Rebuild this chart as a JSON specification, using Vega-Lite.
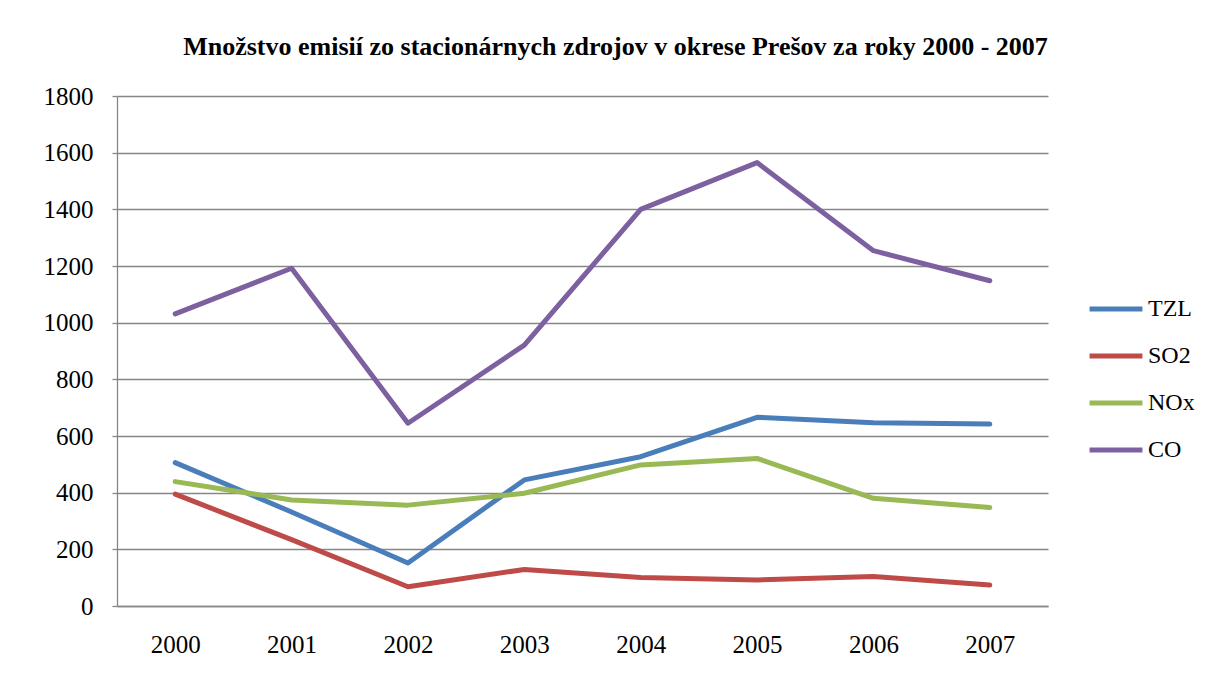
{
  "$schema": "https://vega.github.io/schema/vega-lite/v6.json",
  "width": 931,
  "height": 510,
  "autosize": {"type": "none"},
  "padding": {"left": 117, "top": 96, "right": 162, "bottom": 78},
  "background": "white",
  "title": {
    "text": "Množstvo emisií zo stacionárnych zdrojov v okrese Prešov za roky 2000 - 2007",
    "font": "Liberation Serif",
    "fontSize": 26,
    "fontWeight": "bold",
    "color": "#000000",
    "anchor": "middle",
    "dx": 33,
    "offset": 3,
    "baseline": "alphabetic"
  },
  "data": {
    "values": [
      {"rok": "2000", "latka": "TZL", "hodnota": 506},
      {"rok": "2001", "latka": "TZL", "hodnota": 332},
      {"rok": "2002", "latka": "TZL", "hodnota": 152},
      {"rok": "2003", "latka": "TZL", "hodnota": 445},
      {"rok": "2004", "latka": "TZL", "hodnota": 527},
      {"rok": "2005", "latka": "TZL", "hodnota": 666},
      {"rok": "2006", "latka": "TZL", "hodnota": 647},
      {"rok": "2007", "latka": "TZL", "hodnota": 642},
      {"rok": "2000", "latka": "SO2", "hodnota": 395},
      {"rok": "2001", "latka": "SO2", "hodnota": 234},
      {"rok": "2002", "latka": "SO2", "hodnota": 68},
      {"rok": "2003", "latka": "SO2", "hodnota": 129},
      {"rok": "2004", "latka": "SO2", "hodnota": 101},
      {"rok": "2005", "latka": "SO2", "hodnota": 92},
      {"rok": "2006", "latka": "SO2", "hodnota": 104},
      {"rok": "2007", "latka": "SO2", "hodnota": 74},
      {"rok": "2000", "latka": "NOx", "hodnota": 439},
      {"rok": "2001", "latka": "NOx", "hodnota": 374},
      {"rok": "2002", "latka": "NOx", "hodnota": 356},
      {"rok": "2003", "latka": "NOx", "hodnota": 398},
      {"rok": "2004", "latka": "NOx", "hodnota": 498},
      {"rok": "2005", "latka": "NOx", "hodnota": 521},
      {"rok": "2006", "latka": "NOx", "hodnota": 380},
      {"rok": "2007", "latka": "NOx", "hodnota": 348},
      {"rok": "2000", "latka": "CO", "hodnota": 1031},
      {"rok": "2001", "latka": "CO", "hodnota": 1192},
      {"rok": "2002", "latka": "CO", "hodnota": 645},
      {"rok": "2003", "latka": "CO", "hodnota": 921},
      {"rok": "2004", "latka": "CO", "hodnota": 1400},
      {"rok": "2005", "latka": "CO", "hodnota": 1565},
      {"rok": "2006", "latka": "CO", "hodnota": 1254},
      {"rok": "2007", "latka": "CO", "hodnota": 1148}
    ]
  },
  "mark": {"type": "line", "strokeWidth": 5, "strokeCap": "round", "strokeJoin": "round"},
  "encoding": {
    "x": {
      "field": "rok",
      "type": "ordinal",
      "scale": {"type": "point", "padding": 0.5},
      "axis": {
        "title": null,
        "labelAngle": 0,
        "ticks": false,
        "grid": false,
        "domain": true,
        "domainColor": "#868686",
        "domainWidth": 1.3,
        "labelFont": "Liberation Serif",
        "labelFontSize": 25,
        "labelColor": "#000000",
        "labelPadding": 26
      }
    },
    "y": {
      "field": "hodnota",
      "type": "quantitative",
      "scale": {"domain": [0, 1800], "nice": false},
      "axis": {
        "title": null,
        "values": [0, 200, 400, 600, 800, 1000, 1200, 1400, 1600, 1800],
        "format": "d",
        "grid": true,
        "gridColor": "#868686",
        "gridWidth": 1.3,
        "domain": true,
        "domainColor": "#868686",
        "domainWidth": 1.3,
        "ticks": true,
        "tickSize": 5,
        "tickColor": "#868686",
        "tickWidth": 1.3,
        "labelFont": "Liberation Serif",
        "labelFontSize": 25,
        "labelColor": "#000000",
        "labelPadding": 19
      }
    },
    "color": {
      "field": "latka",
      "type": "nominal",
      "scale": {
        "domain": ["TZL", "SO2", "NOx", "CO"],
        "range": ["#4A7EBB", "#BE4B48", "#98B954", "#7D60A0"]
      },
      "legend": {
        "title": null,
        "orient": "none",
        "legendX": 970,
        "legendY": 184,
        "symbolType": "stroke",
        "symbolSize": 2800,
        "symbolStrokeWidth": 5,
        "labelFont": "Liberation Serif",
        "labelFontSize": 24,
        "labelColor": "#000000",
        "labelOffset": 3,
        "rowPadding": 6
      }
    }
  },
  "config": {
    "view": {"stroke": null}
  }
}
